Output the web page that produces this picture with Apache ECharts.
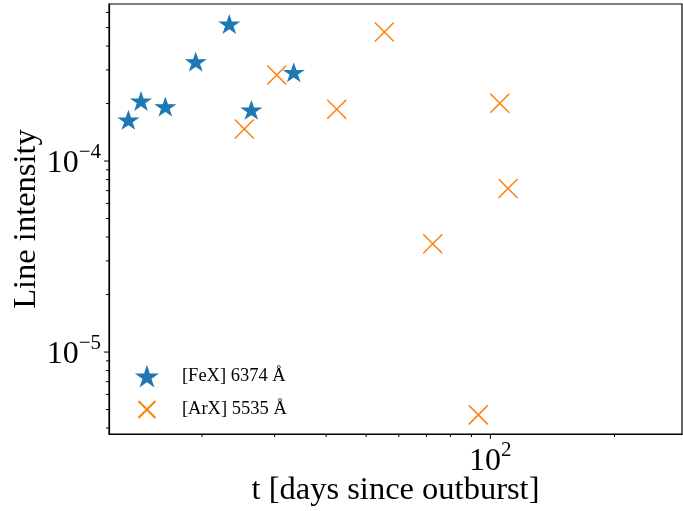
<!DOCTYPE html>
<html>
<head>
<meta charset="utf-8">
<script src="https://cdn.jsdelivr.net/npm/echarts@6/dist/echarts.min.js"></script>
<style>html,body{margin:0;padding:0;background:#fff}#c{width:683px;height:511px}</style>
</head>
<body>
<div id="c"></div>
<script>
// Data
const feX_t = [13.26, 14.23, 16.30, 19.31, 23.29, 26.34, 33.38];
const feX_I = [1.64e-4, 2.06e-4, 1.925e-4, 3.31e-4, 5.21e-4, 1.85e-4, 2.91e-4];
const arX_t = [25.33, 30.35, 42.43, 55.34, 105.4, 110.4, 72.5, 93.5];
const arX_I = [1.47e-4, 2.82e-4, 1.865e-4, 4.74e-4, 2.005e-4, 7.19e-5, 3.69e-5, 4.69e-6];
const seriesNames = ['[FeX] 6374 Å', '[ArX] 5535 Å'];

// Axis ranges and tick values
const X_MIN = 11.9, X_MAX = 291.5;
const Y_MIN = 3.724e-6, Y_MAX = 6.64e-4;
const xMajorTicks = [100];
const xMinorTicks = [20, 30, 40, 50, 60, 70, 80, 90, 200];
const yMajorTicks = [1e-5, 1e-4];
const yMinorTicks = [4e-6, 5e-6, 6e-6, 7e-6, 8e-6, 9e-6,
  2e-5, 3e-5, 4e-5, 5e-5, 6e-5, 7e-5, 8e-5, 9e-5,
  2e-4, 3e-4, 4e-4, 5e-4, 6e-4];

const FONT = 'Liberation Serif';
const STAR = 'path://M0,-100L22.45,-30.9L95.1,-30.9L36.33,11.8L58.8,80.9L0,38.2L-58.8,80.9L-36.33,11.8L-95.1,-30.9L-22.45,-30.9Z';
const CROSS = 'path://M0,0L10,10M10,0L0,10';

function pow10Label(v) {
  const e = Math.round(Math.log10(v));
  return '{b|10}{s|' + (e < 0 ? '\u2212' + (-e) : e) + '}';
}
const rich = {
  b: { fontFamily: FONT, fontSize: 32, color: '#000', lineHeight: 38, verticalAlign: 'bottom' },
  s: { fontFamily: FONT, fontSize: 21, color: '#000', lineHeight: 38, verticalAlign: 'top' }
};

const xTickData = xMajorTicks.map(v => [v, Y_MIN, 1]).concat(xMinorTicks.map(v => [v, Y_MIN, 0]));
const yTickData = yMajorTicks.map(v => [X_MIN, v, 1]).concat(yMinorTicks.map(v => [X_MIN, v, 0]));

const chart = echarts.init(document.getElementById('c'), null, { renderer: 'canvas' });
chart.setOption({
  animation: false,
  backgroundColor: '#fff',
  grid: { left: 109, right: 1, top: 4, bottom: 77, containLabel: false, outerBoundsMode: 'none',
    show: true, borderColor: '#000', borderWidth: 1.2, backgroundColor: 'transparent' },
  xAxis: {
    type: 'log', logBase: 10, min: X_MIN, max: X_MAX,
    name: 't [days since outburst]', nameLocation: 'middle', nameGap: 40, nameMoveOverlap: false,
    nameTextStyle: { fontFamily: FONT, fontSize: 32.5, color: '#000' },
    axisLine: { lineStyle: { color: '#000', width: 1.2 } },
    axisTick: { show: false }, splitLine: { show: false }, minorTick: { show: false },
    axisLabel: { showMinLabel: false, showMaxLabel: false, margin: 6, formatter: pow10Label, rich: rich }
  },
  yAxis: {
    type: 'log', logBase: 10, min: Y_MIN, max: Y_MAX,
    name: 'Line intensity', nameLocation: 'middle', nameGap: 66, nameMoveOverlap: false,
    nameTextStyle: { fontFamily: FONT, fontSize: 32.5, color: '#000' },
    axisLine: { lineStyle: { color: '#000', width: 1.2 } },
    axisTick: { show: false }, splitLine: { show: false }, minorTick: { show: false },
    axisLabel: { showMinLabel: false, showMaxLabel: false, margin: 8, formatter: pow10Label, rich: rich }
  },
  legend: {
    data: seriesNames, orient: 'vertical', left: 132, top: 362,
    itemWidth: 60, itemHeight: 17, itemGap: 14,
    textStyle: { fontFamily: FONT, fontSize: 18.5, color: '#000' }
  },
  series: [
    {
      name: seriesNames[0], type: 'scatter', symbol: STAR, symbolSize: [19, 18], symbolKeepAspect: true,
      itemStyle: { color: '#1f77b4', borderColor: '#1f77b4', borderWidth: 1, opacity: 1 },
      data: feX_t.map((t, i) => [t, feX_I[i]]), z: 3
    },
    {
      name: seriesNames[1], type: 'scatter', symbol: CROSS, symbolSize: 19,
      itemStyle: { color: 'rgba(0,0,0,0)', borderColor: '#ff7f0e', borderWidth: 1.5, opacity: 1 },
      data: arX_t.map((t, i) => [t, arX_I[i]]), z: 3
    },
    {
      type: 'custom', name: 'xticks', clip: false, silent: true, encode: { x: 0, y: 1 },
      data: xTickData,
      renderItem: function (params, api) {
        const p = api.coord([api.value(0), api.value(1)]);
        const len = api.value(2) ? 5 : 3;
        return { type: 'line', shape: { x1: p[0], y1: p[1], x2: p[0], y2: p[1] + len }, style: { stroke: '#000', lineWidth: 1 } };
      }
    },
    {
      type: 'custom', name: 'yticks', clip: false, silent: true, encode: { x: 0, y: 1 },
      data: yTickData,
      renderItem: function (params, api) {
        const p = api.coord([api.value(0), api.value(1)]);
        const len = api.value(2) ? 5 : 3;
        return { type: 'line', shape: { x1: p[0], y1: p[1], x2: p[0] - len, y2: p[1] }, style: { stroke: '#000', lineWidth: 1 } };
      }
    }
  ]
});
</script>
</body>
</html>
